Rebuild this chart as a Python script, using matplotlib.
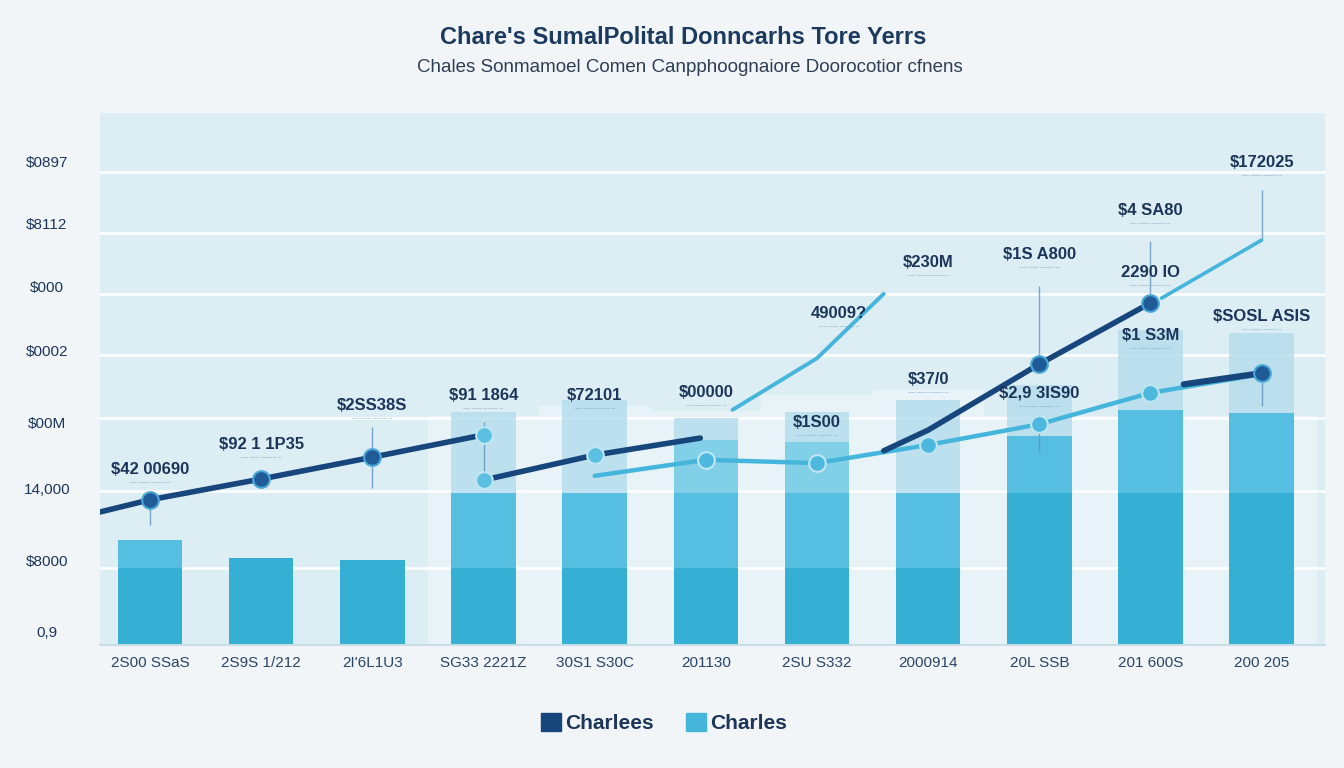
import numpy as np
import matplotlib
matplotlib.use("Agg")
import matplotlib.pyplot as plt
from matplotlib.patches import Patch

# ---------------- data ----------------
categories = ["2S00 SSaS", "2S9S 1/212", "2I'6L1U3", "SG33 2221Z", "30S1 S30C",
              "201130", "2SU S332", "2000914", "20L SSB", "201 600S", "200 205"]

bar_base = [14.5, 16.4, 16.0, 14.5, 14.5, 14.5, 14.5, 14.5, 28.6, 28.6, 28.6]
bar_mid = [19.7, np.nan, np.nan, 28.6, 28.6, 28.6, 28.6, 28.6, 39.3, 44.2, 43.6]
bar_mid2 = [np.nan, np.nan, np.nan, np.nan, np.nan, 38.5, 38.2, np.nan, np.nan, np.nan, np.nan]
bar_pale = [np.nan, np.nan, np.nan, 43.8, 46.1, 42.7, 43.8, 46.1, 48.9, 59.2, 58.6]
ghost = [np.nan, np.nan, np.nan, 43.0, 45.0, 44.0, 47.0, 48.0, 43.0, 43.0, 43.0]

# navy series "Charlees" (several segments)
navy1_x = [-0.45, 0, 1, 2, 3]
navy1_y = [25.0, 27.3, 31.2, 35.3, 39.5]
navy2_x = [3, 4, 4.95]
navy2_y = [31.0, 35.7, 38.9]
navy3_x = [6.6, 7, 8, 9]
navy3_y = [36.5, 40.4, 52.8, 64.3]
navy4_x = [9.3, 10]
navy4_y = [49.0, 51.1]

# light series "Charles"
light1_x = [4, 5, 6, 7, 8, 9, 10]
light1_y = [31.8, 34.8, 34.2, 37.6, 41.5, 47.4, 50.9]
light2_x = [5.24, 6.0, 6.6]
light2_y = [44.2, 53.9, 66.0]
light3_x = [9.1, 10]
light3_y = [65.2, 76.1]

ytick_vals = [90.6, 78.9, 67.1, 55.1, 41.5, 29.1, 15.6, 2.3]
ytick_labels = ["$0897", "$8112", "$000", "$0002", "$00M", "14,000", "$8000", "0,9"]
grid_vals = [88.9, 77.4, 66.0, 54.5, 42.7, 28.9, 14.5]

ann_x = [0, 1, 2, 3, 4, 5, 6, 7, 8, 9, 10, 6.2, 7.0, 8.0, 9.0, 9.0, 10.0]
ann_text = ["$42 00690", "$92 1 1P35", "$2SS38S", "$91 1864", "$72101", "$00000",
            "$1S00", "$37/0", "$2,9 3IS90", "$1 S3M", "$SOSL ASIS", "49009?",
            "$230M", "$1S A800", "$4 SA80", "2290 IO", "$172025"]
ann_y = [31.6, 36.3, 43.6, 45.5, 45.5, 46.1, 40.4, 48.5, 45.9, 56.8, 60.3, 60.9,
         70.5, 72.0, 80.3, 68.6, 89.3]
# connector (vertical) lines: x, y_top, y_bottom
conn_x = [0, 2, 3, 8.0, 9.0, 10.0, 8.0, 10.0]
conn_top = [27.0, 41.0, 42.0, 67.5, 76.0, 85.5, 42.0, 52.5]
conn_bot = [22.5, 29.5, 31.5, 54.0, 66.0, 76.5, 36.0, 45.0]

# ---------------- style ----------------
NAVY = "#17467c"
LIGHT = "#45b5dc"
BAR_DARK = "#36afd5"
BAR_MID = "#56bfe1"
BAR_MID2 = "#82cfe8"
BAR_PALE = "#b3dcec"
TXT = "#1c3558"
FIG_BG = "#f2f5f8"
AX_BG = "#dcedf4"

plt.rcParams['font.family'] = ['Liberation Sans', 'DejaVu Sans']

fig = plt.figure(figsize=(13.44, 7.68), dpi=100, facecolor=FIG_BG)
ax = fig.add_axes([100 / 1344, 1 - 645 / 768, 1225 / 1344, 532 / 768])
ax.set_facecolor(AX_BG)
ax.set_xlim(-0.45, 10.57)
ax.set_ylim(0, 100)

x = np.arange(len(categories))
w = 0.58

for g in grid_vals:
    ax.axhline(g, color="white", lw=2.0, alpha=0.9, zorder=0.5)

# ghost background columns
ax.bar(x, ghost, width=1.0, color="white", alpha=0.35, zorder=0.8, lw=0)

base = np.array(bar_base)
mid = np.array(bar_mid)
mid2 = np.array(bar_mid2)
pale = np.array(bar_pale)

ax.bar(x, pale, width=w, color=BAR_PALE, alpha=0.8, zorder=1, lw=0)
ax.bar(x, mid2, width=w, color=BAR_MID2, zorder=1.2, lw=0)
ax.bar(x, mid, width=w, color=BAR_MID, zorder=1.4, lw=0)
ax.bar(x, base, width=w, color=BAR_DARK, zorder=1.6, lw=0)

# connectors
for cx, t, b in zip(conn_x, conn_top, conn_bot):
    ax.vlines(cx, b, t, color="#5f93bd", lw=1.0, alpha=0.8, zorder=2)

# lines
ax.plot(light2_x, light2_y, color=LIGHT, lw=2.8, zorder=3, solid_capstyle="round")
ax.plot(light3_x, light3_y, color=LIGHT, lw=2.6, zorder=3, solid_capstyle="round")
ax.plot(light1_x, light1_y, color=LIGHT, lw=3.2, zorder=3, solid_capstyle="round")
ax.plot(navy1_x, navy1_y, color=NAVY, lw=4.0, zorder=4, solid_capstyle="round")
ax.plot(navy2_x, navy2_y, color=NAVY, lw=4.0, zorder=4, solid_capstyle="round")
ax.plot(navy3_x, navy3_y, color=NAVY, lw=4.0, zorder=4, solid_capstyle="round")
ax.plot(navy4_x, navy4_y, color=NAVY, lw=4.5, zorder=4, solid_capstyle="round")

# markers
ax.plot(navy1_x[1:4], navy1_y[1:4], "o", ms=12, mfc="#1f5c97", mec="#4aa6d6", mew=1.5, zorder=5)
ax.plot([navy1_x[4]], [navy1_y[4]], "o", ms=12, mfc="#5cc0e3", mec="#bfe5f3", mew=1.5, zorder=5)
ax.plot([navy2_x[0], navy2_x[1]], navy2_y[:2], "o", ms=12, mfc="#5cc0e3", mec="#bfe5f3", mew=1.5, zorder=5)
ax.plot(light1_x[1:6], light1_y[1:6], "o", ms=12, mfc="#4cb8dd", mec="#bfe5f3", mew=1.5, zorder=5)
ax.plot(navy3_x[2:], navy3_y[2:], "o", ms=12, mfc="#1f5c97", mec="#4aa6d6", mew=1.5, zorder=5)
ax.plot([navy4_x[1]], [navy4_y[1]], "o", ms=12, mfc="#1f5c97", mec="#4aa6d6", mew=1.5, zorder=5)

# annotations
for ax_x, t, ay in zip(ann_x, ann_text, ann_y):
    ax.text(ax_x, ay, t, ha="center", va="bottom", fontsize=12, fontweight="bold",
            color=TXT, zorder=6)
    ax.text(ax_x, ay - 0.6, "\u2012\u2012 \u2012\u2012\u2012 \u2012\u2012\u2012\u2012 \u2012",
            ha="center", va="top", fontsize=4.5, color="#6b9cc2", zorder=6)

# axes cosmetics
for s in ["top", "right", "left"]:
    ax.spines[s].set_visible(False)
ax.spines["bottom"].set_color("#c6dde8")
ax.spines["bottom"].set_linewidth(1.5)
ax.set_yticks([])
ytr = ax.get_yaxis_transform()
for v, lab in zip(ytick_vals, ytick_labels):
    ax.text(-53 / 1225, v, lab, transform=ytr, ha="center", va="center",
            fontsize=11, color=TXT)

ax.set_xticks(x)
ax.set_xticklabels(categories, fontsize=11, color="#2a4466")
ax.tick_params(axis="x", length=0, pad=8)

fig.text(683 / 1344, 1 - 37 / 768, "Chare's SumalPolital Donncarhs Tore Yerrs",
         ha="center", va="center", fontsize=17, fontweight="bold", color="#1c3a5e")
fig.text(690 / 1344, 1 - 68 / 768, "Chales Sonmamoel Comen Canpphoognaiore Doorocotior cfnens",
         ha="center", va="center", fontsize=13.5, color="#2f3e52")

handles = [Patch(facecolor=NAVY, edgecolor=NAVY), Patch(facecolor=LIGHT, edgecolor=LIGHT)]
fig.legend(handles, ["Charlees", "Charles"], loc="center", ncol=2,
           bbox_to_anchor=(664 / 1344, 1 - 723 / 768), frameon=False,
           prop={"size": 15, "weight": "bold"}, labelcolor=TXT,
           handlelength=1.0, handleheight=1.0, handletextpad=0.2, columnspacing=1.5)

fig.savefig("out.png", dpi=100, facecolor=FIG_BG)
